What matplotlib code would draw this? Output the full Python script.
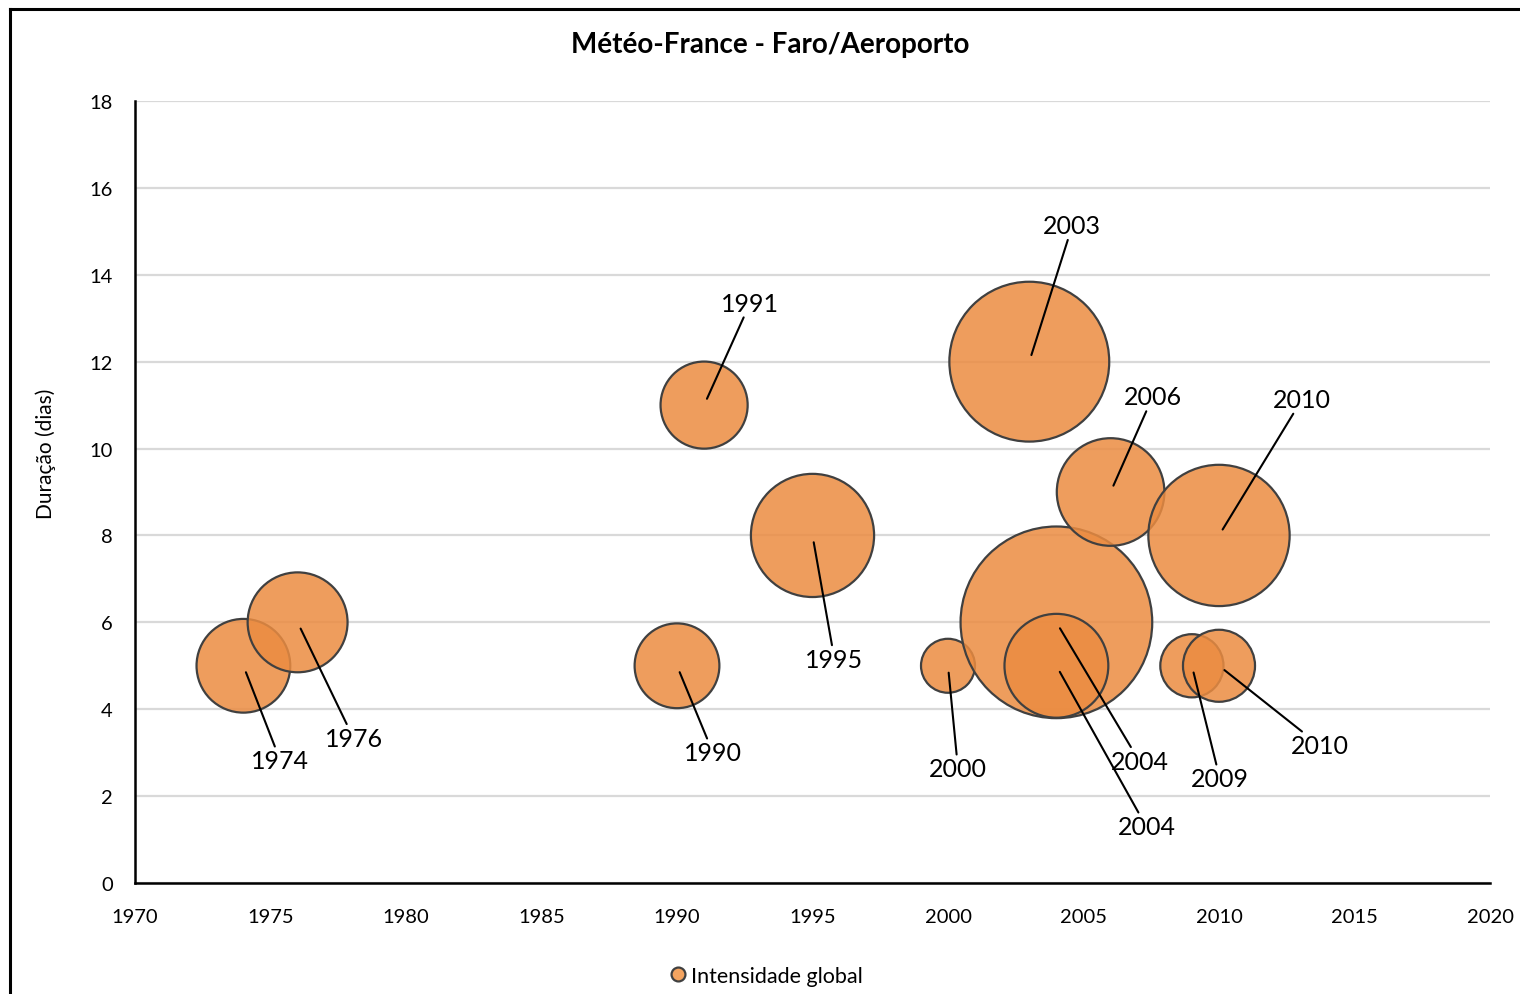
import matplotlib.pyplot as plt
from matplotlib.lines import Line2D

plt.rcParams['font.family'] = ['Lato', 'DejaVu Sans']

# dados: ano, duração (dias), intensidade global
anos = [1974, 1976, 1990, 1991, 1995, 2000, 2003, 2004, 2004, 2006, 2009, 2010, 2010]
duracao = [5, 6, 5, 11, 8, 5, 12, 6, 5, 9, 5, 5, 8]
intensidade = [22, 25, 18, 19, 38, 7.3, 64, 92, 27, 29, 10, 13, 50]
rotulos = ['1974', '1976', '1990', '1991', '1995', '2000', '2003', '2004',
           '2004', '2006', '2009', '2010', '2010']

# posição dos rótulos (deslocamento em pixels)
desloc = [(37, -95), (56, -116), (36, -87), (46, 102), (22, -124), (10, -103),
          (43, 136), (83, -139), (90, -161), (42, 95), (28, -113), (101, -80),
          (83, 136)]

fig = plt.figure(figsize=(15.2, 9.95), dpi=100)
ax = fig.add_axes([135/1520, 1-884/995, (1490-135)/1520, (884-102)/995])

cor = (235/255, 140/255, 65/255, 0.85)
ax.scatter(anos, duracao, s=[207*v for v in intensidade], facecolors=[cor],
           edgecolors='#404040', linewidths=1.6, zorder=3)

for x, y, lab, d in zip(anos, duracao, rotulos, desloc):
    ax.annotate(lab, xy=(x, y), xytext=d, textcoords='offset pixels',
                ha='center', va='center', fontsize=18, zorder=5,
                arrowprops=dict(arrowstyle='-', color='black', lw=1.5,
                                shrinkA=0, shrinkB=5))

ax.set_xlim(1970, 2020)
ax.set_ylim(0, 18)
ax.set_xticks(range(1970, 2021, 5))
ax.set_yticks(range(0, 19, 2))
ax.tick_params(axis='both', length=0, labelsize=14.5)
ax.tick_params(axis='x', pad=18)
ax.tick_params(axis='y', pad=16)
ax.grid(axis='y', color='#d9d9d9', lw=1.6, zorder=0)
ax.set_axisbelow(True)
for lado in ['top', 'right']:
    ax.spines[lado].set_visible(False)
for lado in ['left', 'bottom']:
    ax.spines[lado].set_linewidth(1.8)
    ax.spines[lado].set_color('black')
    ax.spines[lado].set_zorder(2)

ax.set_ylabel('Duração (dias)', fontsize=15)
ax.yaxis.set_label_coords(-0.058, 0.55)

fig.text(770/1520, 1-45/995, 'Météo-France - Faro/Aeroporto', ha='center',
         va='center', fontsize=20, fontweight='bold')

proxy = Line2D([], [], marker='o', linestyle='none', markersize=10,
               markerfacecolor='#F4A460', markeredgecolor='#404040',
               markeredgewidth=1.6)
fig.legend([proxy], ['Intensidade global'], loc='center',
           bbox_to_anchor=(765/1520, 1-977/995), frameon=False, fontsize=15.5,
           handletextpad=0.1, handlelength=1)

# moldura do gráfico
fig.add_artist(Line2D([10/1520, 10/1520], [0, 1-10/995], color='black', lw=2.2))
fig.add_artist(Line2D([10/1520, 1], [1-10/995, 1-10/995], color='black', lw=2.2))

fig.savefig('out.png', dpi=100)
